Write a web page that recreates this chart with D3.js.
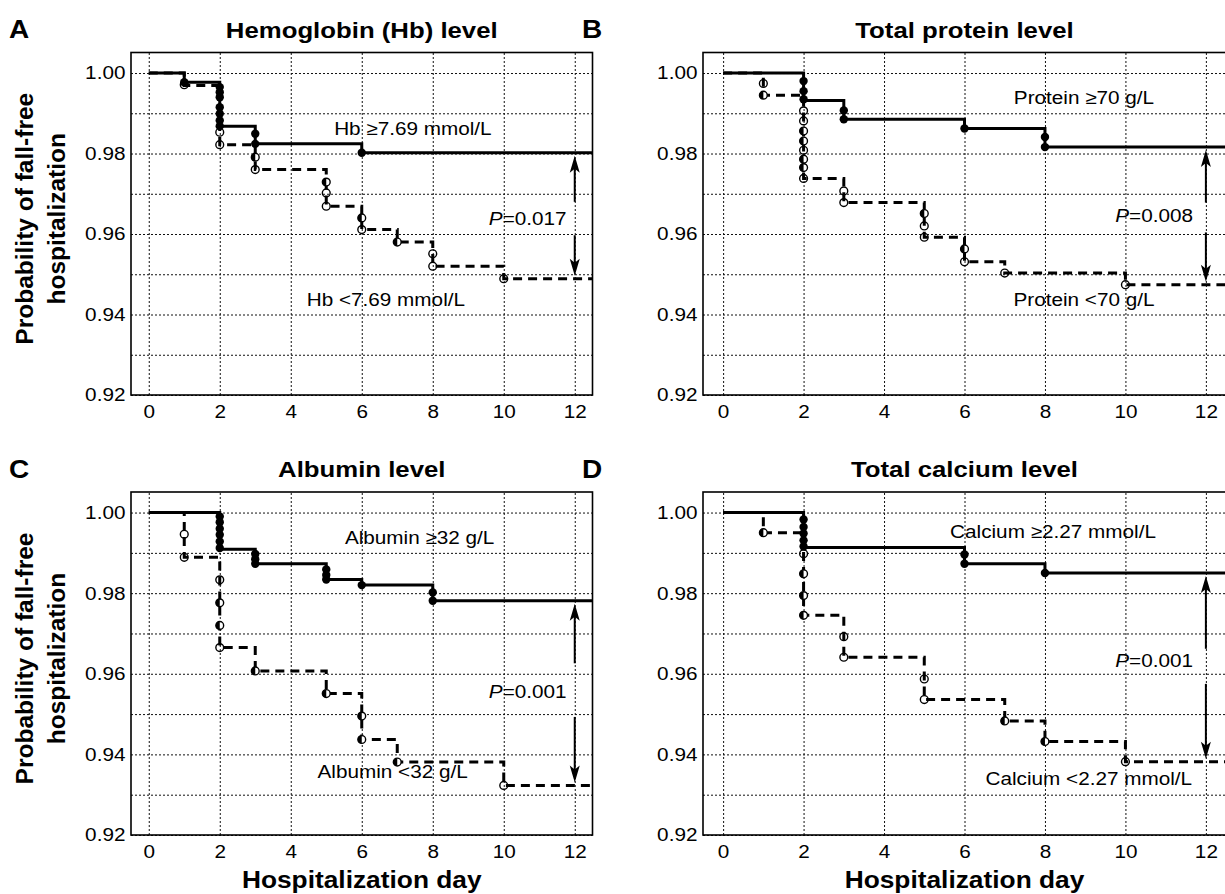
<!DOCTYPE html>
<html>
<head>
<meta charset="utf-8">
<script src="https://cdn.jsdelivr.net/npm/d3@7"></script>
<style>
  body { margin: 0; background: #fff; }
  svg { display: block; font-family: "Liberation Sans", Arial, Helvetica, sans-serif; }
</style>
</head>
<body>
<svg id="chart" width="1225" height="894"></svg>
<script>
/* global d3 */

const dayTicks = [0, 2, 4, 6, 8, 10, 12];
const probTicks = [0.92, 0.94, 0.96, 0.98, 1.00];
const probGrid = [0.92, 0.93, 0.94, 0.95, 0.96, 0.97, 0.98, 0.99, 1.00];

const panelLetters = ['A', 'B', 'C', 'D'];
const panelTitles = ['Hemoglobin (Hb) level', 'Total protein level', 'Albumin level', 'Total calcium level'];
const highLabels = ['Hb \u22657.69 mmol/L', 'Protein \u226570 g/L', 'Albumin \u226532 g/L', 'Calcium \u22652.27 mmol/L'];
const lowLabels = ['Hb <7.69 mmol/L', 'Protein <70 g/L', 'Albumin <32 g/L', 'Calcium <2.27 mmol/L'];
const pValues = ['0.017', '0.008', '0.001', '0.001'];

// step curves: [day, survival]; marks: [day, survival] (filled) or [day, survival, kind]
const hbHigh = [[0, 1.000], [1, 0.9977], [2, 0.9868], [3, 0.9824], [6, 0.9802]];
const hbHighMarks = [[1, 0.9977], [2, 0.9965], [2, 0.9952], [2, 0.9940], [2, 0.9915], [2, 0.9899], [2, 0.9882],
  [2, 0.9868], [3, 0.9849], [3, 0.9824], [6, 0.9802]];
const hbLow = [[0, 1.000], [1, 0.9969], [2, 0.9822], [3, 0.9760], [5, 0.9669], [6, 0.9611], [7, 0.9580],
  [8, 0.9520], [10, 0.9489]];
const hbLowMarks = [[1, 0.9971, 'o'], [2, 0.9853, 'o'], [2, 0.9822, 'o'], [3, 0.9791, 'h'], [3, 0.9760, 'o'],
  [5, 0.9729, 'h'], [5, 0.9702, 'o'], [5, 0.9669, 'o'], [6, 0.9640, 'h'], [6, 0.9611, 'o'], [7, 0.9580, 'h'],
  [8, 0.9551, 'o'], [8, 0.9520, 'o'], [10, 0.9489, 'o']];

const proteinHigh = [[0, 1.000], [2, 0.9932], [3, 0.9885], [6, 0.9862], [8, 0.9816]];
const proteinHighMarks = [[2, 0.9980], [2, 0.9955], [2, 0.9935], [3, 0.9907], [3, 0.9885], [6, 0.9862],
  [8, 0.9841], [8, 0.9816]];
const proteinLow = [[0, 1.000], [1, 0.9945], [2, 0.9738], [3, 0.9678], [5, 0.9592], [6, 0.9531], [7, 0.9503],
  [10, 0.9474]];
const proteinLowMarks = [[1, 0.9974, 'o'], [1, 0.9945, 'h'], [2, 0.9906, 'o'], [2, 0.9881, 'o'], [2, 0.9856, 'h'],
  [2, 0.9831, 'h'], [2, 0.9808, 'o'], [2, 0.9786, 'h'], [2, 0.9765, 'h'], [2, 0.9738, 'o'], [3, 0.9707, 'o'],
  [3, 0.9678, 'o'], [5, 0.9651, 'h'], [5, 0.9620, 'o'], [5, 0.9592, 'o'], [6, 0.9563, 'h'], [6, 0.9531, 'o'],
  [7, 0.9503, 'o'], [10, 0.9474, 'o']];

const albuminHigh = [[0, 1.000], [2, 0.9909], [3, 0.9873], [5, 0.9834], [6, 0.9820], [8, 0.9781]];
const albuminHighMarks = [[2, 0.9990], [2, 0.9976], [2, 0.9960], [2, 0.9945], [2, 0.9928], [2, 0.9912],
  [3, 0.9897], [3, 0.9884], [3, 0.9873], [5, 0.9859], [5, 0.9845], [5, 0.9834], [6, 0.9820], [8, 0.9802],
  [8, 0.9781]];
const albuminLow = [[0, 1.000], [1, 0.9889], [2, 0.9665], [3, 0.9607], [5, 0.9551], [6, 0.9437], [7, 0.9381],
  [10, 0.9323]];
const albuminLowMarks = [[1, 0.9946, 'o'], [1, 0.9889, 'o'], [2, 0.9833, 'o'], [2, 0.9776, 'h'], [2, 0.9720, 'h'],
  [2, 0.9665, 'o'], [3, 0.9607, 'h'], [5, 0.9551, 'h'], [6, 0.9495, 'h'], [6, 0.9437, 'h'], [7, 0.9381, 'h'],
  [10, 0.9323, 'o']];

const calciumHigh = [[0, 1.000], [2, 0.9913], [6, 0.9873], [8, 0.9850]];
const calciumHighMarks = [[2, 0.9983], [2, 0.9964], [2, 0.9948], [2, 0.9931], [2, 0.9916], [6, 0.9896],
  [6, 0.9873], [8, 0.9850]];
const calciumLow = [[0, 1.000], [1, 0.9950], [2, 0.9745], [3, 0.9641], [5, 0.9536], [7, 0.9483], [8, 0.9432],
  [10, 0.9382]];
const calciumLowMarks = [[1, 0.9950, 'h'], [2, 0.9898, 'o'], [2, 0.9848, 'h'], [2, 0.9794, 'h'], [2, 0.9745, 'h'],
  [3, 0.9692, 'o'], [3, 0.9641, 'o'], [5, 0.9587, 'o'], [5, 0.9536, 'o'], [7, 0.9483, 'h'], [8, 0.9432, 'h'],
  [10, 0.9382, 'o']];

// layout (pixel frames and annotation anchors in data units)
const stretch = 1.12;
const panels = [
  { frame: { left: 131, top: 52.5, right: 592.5, bottom: 395 }, high: hbHigh, highMarks: hbHighMarks,
    low: hbLow, lowMarks: hbLowMarks, highAt: [7.44, 0.9862], lowAt: [6.68, 0.9436], pAt: [11.77, 0.9638],
    gap: [0.9680, 0.9597] },
  { frame: { left: 703, top: 52.5, right: 1226, bottom: 395 }, high: proteinHigh, highMarks: proteinHighMarks,
    low: proteinLow, lowMarks: proteinLowMarks, highAt: [8.97, 0.9938], lowAt: [8.97, 0.9437], pAt: [11.68, 0.9645],
    gap: [0.9678, 0.9604] },
  { frame: { left: 131, top: 492, right: 592.5, bottom: 835 }, high: albuminHigh, highMarks: albuminHighMarks,
    low: albuminLow, lowMarks: albuminLowMarks, highAt: [7.63, 0.9939], lowAt: [6.87, 0.9357], pAt: [11.77, 0.9555],
    gap: [0.9626, 0.9493] },
  { frame: { left: 703, top: 492, right: 1226, bottom: 835 }, high: calciumHigh, highMarks: calciumHighMarks,
    low: calciumLow, lowMarks: calciumLowMarks, highAt: [8.2, 0.9953], lowAt: [9.09, 0.9339], pAt: [11.68, 0.9634],
    gap: [0.9662, 0.9575] },
];

const svg = d3.select('#chart');

function placeText(g, x, y, str, size, weight, anchor) {
  return g.append('text')
    .attr('transform', `translate(${x},${y}) scale(${stretch},1)`)
    .attr('dy', '0.35em')
    .style('font-size', `${size}px`)
    .style('font-weight', weight)
    .style('text-anchor', anchor)
    .style('fill', '#000')
    .text(str);
}

function drawPanel(p, i) {
  const f = p.frame;
  const xScale = d3.scaleLinear().domain([-0.5, 12.5]).range([f.left, f.right]);
  const yScale = d3.scaleLinear().domain([0.92, 1.0051]).range([f.bottom, f.top]);
  const g = svg.append('g').attr('class', `panel panel${panelLetters[i]}`);

  // grid
  const yGrid = g.append('g')
    .attr('transform', `translate(${f.left},0)`)
    .call(d3.axisLeft(yScale).tickValues(probGrid).tickSize(-(f.right - f.left)).tickFormat(''));
  const xGrid = g.append('g')
    .attr('transform', `translate(0,${f.bottom})`)
    .call(d3.axisBottom(xScale).tickValues(dayTicks).tickSize(-(f.bottom - f.top)).tickFormat(''));
  [yGrid, xGrid].forEach((ax) => {
    ax.select('.domain').remove();
    ax.selectAll('.tick line')
      .style('stroke', '#111')
      .style('stroke-width', 1)
      .style('stroke-dasharray', '2,2');
  });

  // tick labels
  const yAxis = g.append('g')
    .attr('transform', `translate(${f.left},0)`)
    .call(d3.axisLeft(yScale).tickValues(probTicks).tickSize(0).tickPadding(5).tickFormat(d3.format('.2f')));
  const xAxis = g.append('g')
    .attr('transform', `translate(0,${f.bottom})`)
    .call(d3.axisBottom(xScale).tickValues(dayTicks).tickSize(0).tickPadding(10));
  [yAxis, xAxis].forEach((ax) => {
    ax.select('.domain').remove();
    ax.selectAll('.tick text')
      .attr('transform', `scale(${stretch},1)`)
      .style('font-family', '"Liberation Sans", Arial, sans-serif')
      .style('font-size', '18.5px')
      .style('fill', '#000');
  });

  const line = d3.line()
    .x((d) => xScale(d[0]))
    .y((d) => yScale(d[1]))
    .curve(d3.curveStepAfter);
  const xEnd = xScale.domain()[1];

  const lowPts = p.low.concat([[xEnd, p.low[p.low.length - 1][1]]]);
  const highPts = p.high.concat([[xEnd, p.high[p.high.length - 1][1]]]);

  g.append('path')
    .datum(lowPts)
    .attr('d', line)
    .style('fill', 'none')
    .style('stroke', '#000')
    .style('stroke-width', 3)
    .style('stroke-dasharray', '9,6');

  g.append('path')
    .datum(highPts)
    .attr('d', line)
    .style('fill', 'none')
    .style('stroke', '#000')
    .style('stroke-width', 3);

  // markers
  const r = 3.9;
  const halfArc = d3.arc().innerRadius(0).outerRadius(r).startAngle(Math.PI).endAngle(2 * Math.PI);
  const lowG = g.append('g').attr('class', 'lowMarks');
  p.lowMarks.forEach((m) => {
    const mg = lowG.append('g').attr('transform', `translate(${xScale(m[0])},${yScale(m[1])})`);
    mg.append('circle')
      .attr('r', r)
      .style('fill', m[2] === 'h' ? '#fff' : 'none')
      .style('stroke', '#000')
      .style('stroke-width', 1.4);
    if (m[2] === 'h') {
      mg.append('path').attr('d', halfArc()).style('fill', '#000');
    }
  });
  g.append('g').attr('class', 'highMarks')
    .selectAll('circle')
    .data(p.highMarks)
    .enter()
    .append('circle')
    .attr('cx', (d) => xScale(d[0]))
    .attr('cy', (d) => yScale(d[1]))
    .attr('r', 4.2)
    .style('fill', '#000');

  // group labels
  placeText(g, xScale(p.highAt[0]), yScale(p.highAt[1]), highLabels[i], 18.5, 'normal', 'middle');
  placeText(g, xScale(p.lowAt[0]), yScale(p.lowAt[1]), lowLabels[i], 18.5, 'normal', 'middle');

  const pText = placeText(g, xScale(p.pAt[0]), yScale(p.pAt[1]), '', 18.5, 'normal', 'end');
  pText.append('tspan').style('font-style', 'italic').text('P');
  pText.append('tspan').text(`=${pValues[i]}`);

  // double arrow between curves at day 12
  const ax = xScale(12);
  const yTop = yScale(p.high[p.high.length - 1][1]) + 3;
  const yBot = yScale(p.low[p.low.length - 1][1]) - 3;
  const arrow = g.append('g').attr('class', 'arrow');
  arrow.append('line')
    .attr('x1', ax).attr('x2', ax)
    .attr('y1', yTop + 8).attr('y2', yScale(p.gap[0]))
    .style('stroke', '#000').style('stroke-width', 2);
  arrow.append('line')
    .attr('x1', ax).attr('x2', ax)
    .attr('y1', yScale(p.gap[1])).attr('y2', yBot - 8)
    .style('stroke', '#000').style('stroke-width', 2);
  arrow.append('path')
    .attr('d', `M${ax},${yTop}L${ax + 5},${yTop + 17}L${ax},${yTop + 13}L${ax - 5},${yTop + 17}Z`)
    .style('fill', '#000');
  arrow.append('path')
    .attr('d', `M${ax},${yBot}L${ax + 5},${yBot - 17}L${ax},${yBot - 13}L${ax - 5},${yBot - 17}Z`)
    .style('fill', '#000');

  // frame
  g.append('rect')
    .attr('x', f.left)
    .attr('y', f.top)
    .attr('width', f.right - f.left)
    .attr('height', f.bottom - f.top)
    .style('fill', 'none')
    .style('stroke', '#000')
    .style('stroke-width', 1.6);

  // title, panel letter
  const midX = (f.left + f.right) / 2;
  placeText(g, midX, f.top - 23, panelTitles[i], 23, 'bold', 'middle');
  placeText(g, i % 2 === 0 ? 9 : 582, f.top - 23, panelLetters[i], 25, 'bold', 'start');

  // x label for bottom row, y label for left column
  if (i >= 2) {
    placeText(g, midX, f.bottom + 45, 'Hospitalization day', 23.5, 'bold', 'middle');
  }
  if (i % 2 === 0) {
    const cy = (f.top + f.bottom) / 2 - 5;
    const yl = g.append('text')
      .attr('transform', `translate(0,${cy}) rotate(-90)`)
      .style('font-size', '24.5px')
      .style('font-weight', 'bold')
      .style('text-anchor', 'middle');
    yl.append('tspan').attr('x', 0).attr('y', 33).text('Probability of fall-free');
    yl.append('tspan').attr('x', 0).attr('y', 65).text('hospitalization');
  }
}

panels.forEach(drawPanel);
</script>
</body>
</html>
